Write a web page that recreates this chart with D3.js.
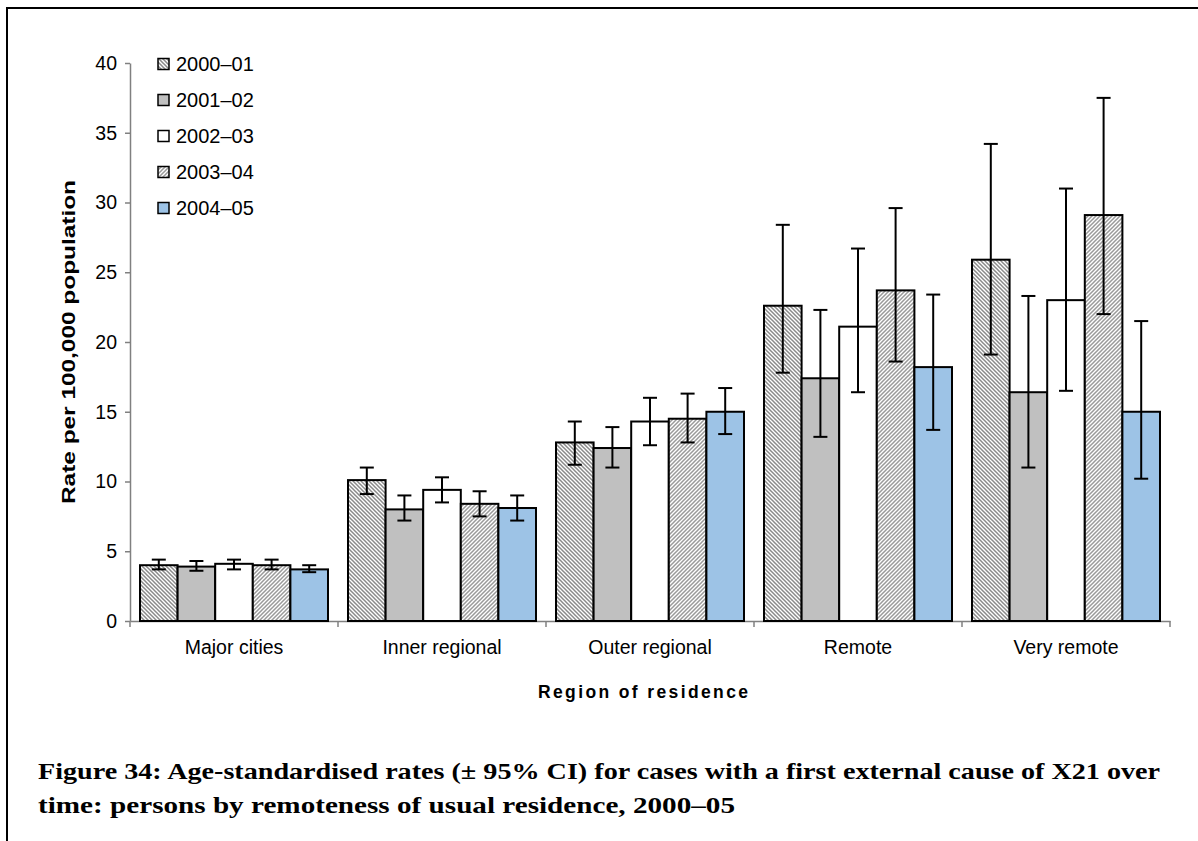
<!DOCTYPE html>
<html>
<head>
<meta charset="utf-8">
<script src="https://cdn.jsdelivr.net/npm/d3@7"></script>
<style>
  html, body { margin: 0; padding: 0; background: #fff; }
  svg { display: block; }
  text { font-family: 'Liberation Sans', Arial, sans-serif; fill: #000; }
</style>
</head>
<body>
<svg id="chart" width="1198" height="841"></svg>
<script>
// Regions of residence (x categories)
const regions = ["Major cities", "Inner regional", "Outer regional", "Remote", "Very remote"];
// Financial years (series)
const years = ["2000\u201301", "2001\u201302", "2002\u201303", "2003\u201304", "2004\u201305"];

// Age-standardised rate per 100,000, one array per year, ordered as regions
const rate2000 = [4.0, 10.1, 12.8, 22.6, 25.9];
const rate2001 = [3.9, 8.0, 12.4, 17.4, 16.4];
const rate2002 = [4.1, 9.4, 14.3, 21.1, 23.0];
const rate2003 = [4.0, 8.4, 14.5, 23.7, 29.1];
const rate2004 = [3.7, 8.1, 15.0, 18.2, 15.0];

// 95% confidence interval bounds
const lower2000 = [3.7, 9.1, 11.2, 17.8, 19.1];
const upper2000 = [4.4, 11.0, 14.3, 28.4, 34.2];
const lower2001 = [3.6, 7.2, 11.0, 13.2, 11.0];
const upper2001 = [4.3, 9.0, 13.9, 22.3, 23.3];
const lower2002 = [3.7, 8.5, 12.6, 16.4, 16.5];
const upper2002 = [4.4, 10.3, 16.0, 26.7, 31.0];
const lower2003 = [3.7, 7.5, 12.8, 18.6, 22.0];
const upper2003 = [4.4, 9.3, 16.3, 29.6, 37.5];
const lower2004 = [3.5, 7.2, 13.4, 13.7, 10.2];
const upper2004 = [4.0, 9.0, 16.7, 23.4, 21.5];

// Y-axis tick values
const yTicks = [0, 5, 10, 15, 20, 25, 30, 35, 40];

const seriesRates = [rate2000, rate2001, rate2002, rate2003, rate2004];
const seriesLower = [lower2000, lower2001, lower2002, lower2003, lower2004];
const seriesUpper = [upper2000, upper2001, upper2002, upper2003, upper2004];

const rows = [];
regions.forEach((r, i) => {
  years.forEach((y, j) => {
    rows.push({ region: r, year: y, idx: j, value: seriesRates[j][i], lo: seriesLower[j][i], hi: seriesUpper[j][i] });
  });
});

const svg = d3.select("#chart");
const sans = "'Liberation Sans', Arial, sans-serif";
const serif = "'Liberation Serif', 'Times New Roman', serif";

// Outer frame
svg.append("rect")
  .attr("x", 7).attr("y", 8)
  .attr("width", 1198).attr("height", 900)
  .attr("fill", "none").attr("stroke", "#000").attr("stroke-width", 2);

// Fill patterns
const defs = svg.append("defs");
function stripes(id, dir, color) {
  const p = defs.append("pattern")
    .attr("id", id)
    .attr("patternUnits", "userSpaceOnUse")
    .attr("width", 4).attr("height", 4);
  p.append("rect").attr("width", 4).attr("height", 4).attr("fill", "#fff");
  const d = dir === "back"
    ? "M-1,-1 L5,5 M-1,3 L1,5 M3,-1 L5,1"
    : "M-1,5 L5,-1 M-1,1 L1,-1 M3,5 L5,3";
  p.append("path").attr("d", d).attr("stroke", color).attr("stroke-width", 1.5);
}
stripes("hatchBack", "back", "#8a8a8a");
stripes("hatchFwd", "fwd", "#9a9a9a");

const fills = ["url(#hatchBack)", "#c0c0c0", "#ffffff", "url(#hatchFwd)", "#9dc3e6"];

// Scales
const x0 = d3.scaleBand().domain(regions).range([130, 1170]).padding(0);
const x1 = d3.scaleBand().domain(years).range([10, x0.bandwidth() - 10]).padding(0);
const y = d3.scaleLinear().domain([0, 40]).range([621, 63]);

// Y axis
const yAxis = svg.append("g")
  .attr("transform", "translate(130,0)")
  .call(d3.axisLeft(y).tickValues(yTicks).tickSize(5).tickSizeOuter(0).tickPadding(8));
yAxis.select(".domain").attr("stroke", "#808080").attr("stroke-width", 1.5);
yAxis.selectAll(".tick line").attr("stroke", "#808080").attr("stroke-width", 1.5);
yAxis.selectAll(".tick text").style("font-size", "19.5px").style("font-family", sans).attr("fill", "#000");

// X axis: labels at band centres, ticks at band boundaries
const xAxis = svg.append("g")
  .attr("transform", "translate(0,621)")
  .call(d3.axisBottom(x0).tickSize(0).tickPadding(19).tickSizeOuter(0));
xAxis.select(".domain").attr("stroke", "#808080").attr("stroke-width", 1.5);
xAxis.selectAll(".tick text").style("font-size", "19.5px").style("font-family", sans).attr("fill", "#000");
const bounds = regions.map(r => x0(r)).concat([x0(regions[regions.length - 1]) + x0.bandwidth()]);
xAxis.selectAll("line.bound")
  .data(bounds)
  .enter().append("line")
  .attr("class", "bound")
  .attr("x1", d => d).attr("x2", d => d)
  .attr("y1", 0).attr("y2", 6)
  .attr("stroke", "#808080").attr("stroke-width", 1.5);

// Bars
svg.append("g").selectAll("rect")
  .data(rows)
  .enter().append("rect")
  .attr("x", d => x0(d.region) + x1(d.year))
  .attr("y", d => y(d.value))
  .attr("width", x1.bandwidth())
  .attr("height", d => y(0) - y(d.value))
  .attr("fill", d => fills[d.idx])
  .attr("stroke", "#000")
  .attr("stroke-width", 2);

// Error bars
const cap = 7;
const eb = svg.append("g").attr("stroke", "#000").attr("stroke-width", 2);
rows.forEach(d => {
  const cx = x0(d.region) + x1(d.year) + x1.bandwidth() / 2;
  eb.append("line").attr("x1", cx).attr("x2", cx).attr("y1", y(d.hi)).attr("y2", y(d.lo));
  eb.append("line").attr("x1", cx - cap).attr("x2", cx + cap).attr("y1", y(d.hi)).attr("y2", y(d.hi));
  eb.append("line").attr("x1", cx - cap).attr("x2", cx + cap).attr("y1", y(d.lo)).attr("y2", y(d.lo));
});

// Axis titles
svg.append("text")
  .attr("transform", "translate(75,342) rotate(-90)")
  .attr("x", -162)
  .attr("textLength", 324).attr("lengthAdjust", "spacingAndGlyphs")
  .style("font-family", sans)
  .style("font-size", "18px").style("font-weight", "bold")
  .text("Rate per 100,000 population");

svg.append("text")
  .attr("x", 538).attr("y", 698)
  .attr("textLength", 210).attr("lengthAdjust", "spacing")
  .style("font-family", sans)
  .style("font-size", "17.5px").style("font-weight", "bold")
  .text("Region of residence");

// Legend
const legend = svg.append("g");
years.forEach((yr, j) => {
  const cy = 64 + j * 36;
  legend.append("rect")
    .attr("x", 158).attr("y", cy - 5.5)
    .attr("width", 11).attr("height", 11)
    .attr("fill", fills[j]).attr("stroke", "#000").attr("stroke-width", 1.5);
  legend.append("text")
    .attr("x", 176).attr("y", cy + 7)
    .style("font-family", sans)
    .style("font-size", "20px")
    .text(yr);
});

// Caption
const cap1 = "Figure 34: Age-standardised rates (\u00b1 95% CI) for cases with a first external cause of X21 over";
const cap2 = "time: persons by remoteness of usual residence, 2000\u201305";
svg.append("text")
  .attr("x", 38).attr("y", 779)
  .attr("textLength", 1122).attr("lengthAdjust", "spacingAndGlyphs")
  .style("font-family", serif)
  .style("font-size", "23.5px").style("font-weight", "bold")
  .text(cap1);
svg.append("text")
  .attr("x", 38).attr("y", 813)
  .attr("textLength", 697).attr("lengthAdjust", "spacingAndGlyphs")
  .style("font-family", serif)
  .style("font-size", "23.5px").style("font-weight", "bold")
  .text(cap2);
</script>
</body>
</html>
